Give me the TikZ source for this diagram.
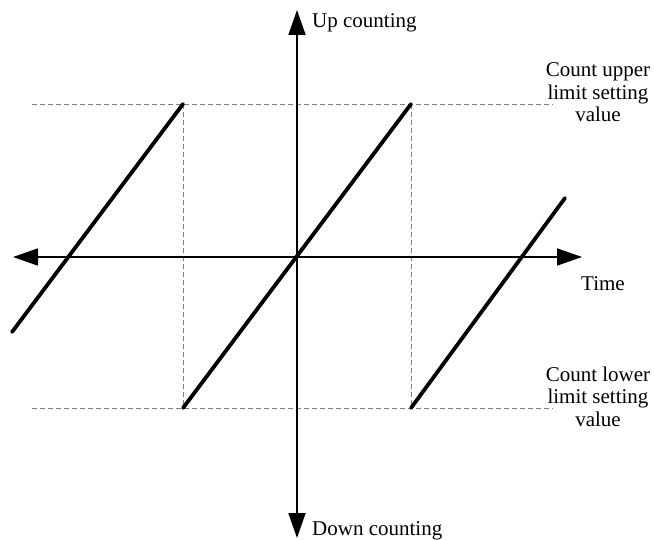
\documentclass[tikz,border=0pt]{standalone}
\usepackage{fontspec}
\setmainfont{Liberation Serif}
\usetikzlibrary{arrows.meta}
\begin{document}
\begin{tikzpicture}[x=1pt,y=-1pt,
  axis/.style={line width=1.8pt,-{Triangle[length=25pt,width=17pt]}},
  guide/.style={gray,line width=0.9pt,dash pattern=on 5pt off 3pt},
  ramp/.style={line width=3.8pt,line cap=round},
  lbl/.style={inner sep=0pt,font=\fontsize{21}{22.5}\selectfont},
  side/.style={lbl,align=center,anchor=north}]
\useasboundingbox (0,0) rectangle (655,540);
% key coordinates
\coordinate (O) at (297,257);
\coordinate (L) at (13,257);
\coordinate (R) at (582,257);
\coordinate (T) at (297,10);
\coordinate (B) at (297,538);
\coordinate (UL) at (32,104);
\coordinate (UR) at (553,104);
\coordinate (DL) at (32,408);
\coordinate (DR) at (553,408);
\coordinate (P1) at (183,104);
\coordinate (Q1) at (183,408);
\coordinate (P2) at (411,104);
\coordinate (Q2) at (411,408);
\coordinate (S0) at (12,332);
\coordinate (S3) at (565,198);
% guides
\draw[guide] (UL) -- (UR);
\draw[guide] (DL) -- (DR);
\draw[guide] (P1) -- (Q1);
\draw[guide] (P2) -- (Q2);
% axes
\draw[axis] (O) -- (L);
\draw[axis] (O) -- (R);
\draw[axis] (O) -- (T);
\draw[axis] (O) -- (B);
% ramps
\draw[ramp] (S0) -- (P1);
\draw[ramp] (Q1) -- (P2);
\draw[ramp] (Q2) -- (S3);
% labels
\node[lbl,anchor=base west] (up) at (312,28) {Up counting};
\node[lbl,anchor=base west] (down) at (312,535) {Down counting};
\node[lbl,anchor=base] (time) at (603,290) {Time};
\node[side] (upper) at (598,62.5) {Count upper\\limit setting\\value};
\node[side] (lower) at (598,366.5) {Count lower\\limit setting\\value};
\end{tikzpicture}
\end{document}
